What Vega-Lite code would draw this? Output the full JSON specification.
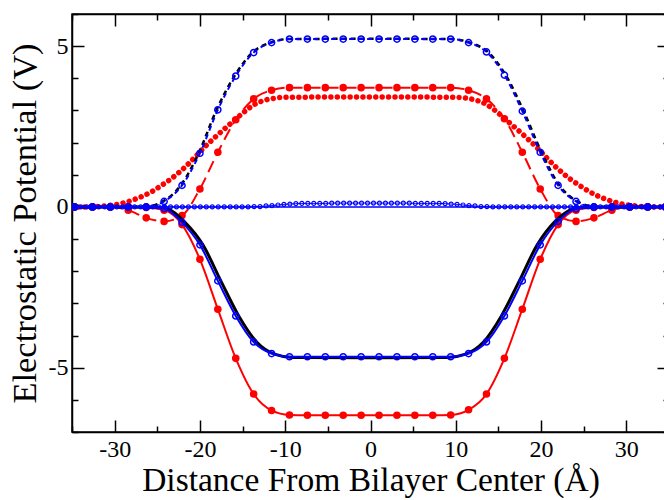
{
  "$schema": "https://vega.github.io/schema/vega-lite/v6.json",
  "width": 597,
  "height": 418,
  "autosize": "none",
  "padding": {"left": 72, "top": 14, "right": 0, "bottom": 68},
  "background": "white",
  "config": {
    "view": {"stroke": "black", "strokeWidth": 1.5},
    "axis": {
      "grid": false,
      "domainColor": "black",
      "domainWidth": 1.5,
      "tickColor": "black",
      "tickWidth": 1.5,
      "labelFont": "Liberation Serif",
      "titleFont": "Liberation Serif",
      "labelColor": "black",
      "titleColor": "black",
      "titleFontWeight": "normal"
    }
  },
  "datasets": {
    "RDot": [
      {"x": -35, "y": 0}, {"x": -33, "y": 0}, {"x": -31.5, "y": 0.02}, {"x": -30.5, "y": 0.05},
      {"x": -29.5, "y": 0.09}, {"x": -28.5, "y": 0.16}, {"x": -27.5, "y": 0.25}, {"x": -26.5, "y": 0.36},
      {"x": -25.5, "y": 0.5}, {"x": -24.5, "y": 0.67}, {"x": -23.5, "y": 0.85}, {"x": -22.5, "y": 1.06},
      {"x": -21.5, "y": 1.3}, {"x": -20.5, "y": 1.57}, {"x": -19.5, "y": 1.85}, {"x": -18.5, "y": 2.1},
      {"x": -17.5, "y": 2.34}, {"x": -16.5, "y": 2.57}, {"x": -15.5, "y": 2.8}, {"x": -14.5, "y": 3.02},
      {"x": -13.5, "y": 3.2}, {"x": -12.5, "y": 3.31}, {"x": -11.5, "y": 3.37}, {"x": -10, "y": 3.41},
      {"x": 0, "y": 3.42},
      {"x": 10, "y": 3.41}, {"x": 11.5, "y": 3.37}, {"x": 12.5, "y": 3.31}, {"x": 13.5, "y": 3.2},
      {"x": 14.5, "y": 3.02}, {"x": 15.5, "y": 2.8}, {"x": 16.5, "y": 2.57}, {"x": 17.5, "y": 2.34},
      {"x": 18.5, "y": 2.1}, {"x": 19.5, "y": 1.85}, {"x": 20.5, "y": 1.57}, {"x": 21.5, "y": 1.3},
      {"x": 22.5, "y": 1.06}, {"x": 23.5, "y": 0.85}, {"x": 24.5, "y": 0.67}, {"x": 25.5, "y": 0.5},
      {"x": 26.5, "y": 0.36}, {"x": 27.5, "y": 0.25}, {"x": 28.5, "y": 0.16}, {"x": 29.5, "y": 0.09},
      {"x": 30.5, "y": 0.05}, {"x": 31.5, "y": 0.02}, {"x": 33, "y": 0}, {"x": 35, "y": 0}
    ],
    "RD": [
      {"x": -34.7, "y": 0}, {"x": -32.6, "y": 0}, {"x": -30.5, "y": 0}, {"x": -28.4, "y": -0.1},
      {"x": -26.3, "y": -0.34}, {"x": -24.2, "y": -0.45}, {"x": -22.1, "y": -0.27}, {"x": -20.0, "y": 0.56},
      {"x": -17.9, "y": 1.7}, {"x": -15.8, "y": 2.71}, {"x": -13.7, "y": 3.36}, {"x": -11.6, "y": 3.63},
      {"x": -9.5, "y": 3.71}, {"x": -7.4, "y": 3.71}, {"x": -5.3, "y": 3.71}, {"x": -3.2, "y": 3.71},
      {"x": -1.1, "y": 3.71}, {"x": 1.0, "y": 3.71}, {"x": 3.1, "y": 3.71}, {"x": 5.2, "y": 3.71},
      {"x": 7.3, "y": 3.71}, {"x": 9.4, "y": 3.71}, {"x": 11.5, "y": 3.63}, {"x": 13.6, "y": 3.36},
      {"x": 15.7, "y": 2.74}, {"x": 17.8, "y": 1.7}, {"x": 19.9, "y": 0.56}, {"x": 22.0, "y": -0.27},
      {"x": 24.1, "y": -0.45}, {"x": 26.2, "y": -0.34}, {"x": 28.3, "y": -0.1}, {"x": 30.4, "y": 0},
      {"x": 32.5, "y": 0}, {"x": 34.6, "y": 0}
    ],
    "RS": [
      {"x": -34.7, "y": 0}, {"x": -32.6, "y": 0}, {"x": -30.5, "y": 0}, {"x": -28.4, "y": 0},
      {"x": -26.3, "y": -0.02}, {"x": -24.2, "y": -0.1}, {"x": -22.1, "y": -0.55}, {"x": -20.0, "y": -1.63},
      {"x": -17.9, "y": -3.18}, {"x": -15.8, "y": -4.71}, {"x": -13.7, "y": -5.82}, {"x": -11.6, "y": -6.33},
      {"x": -9.5, "y": -6.47}, {"x": -7.4, "y": -6.48}, {"x": -5.3, "y": -6.48}, {"x": -3.2, "y": -6.48},
      {"x": -1.1, "y": -6.48}, {"x": 1.0, "y": -6.48}, {"x": 3.1, "y": -6.48}, {"x": 5.2, "y": -6.48},
      {"x": 7.3, "y": -6.48}, {"x": 9.4, "y": -6.47}, {"x": 11.5, "y": -6.31}, {"x": 13.6, "y": -5.82},
      {"x": 15.7, "y": -4.71}, {"x": 17.8, "y": -3.18}, {"x": 19.9, "y": -1.63}, {"x": 22.0, "y": -0.55},
      {"x": 24.1, "y": -0.1}, {"x": 26.2, "y": -0.02}, {"x": 28.3, "y": 0}, {"x": 30.4, "y": 0},
      {"x": 32.5, "y": 0}, {"x": 34.6, "y": 0}
    ],
    "KD": [
      {"x": -35, "y": 0}, {"x": -26.6, "y": 0}, {"x": -24.35, "y": 0.17}, {"x": -22.25, "y": 0.67},
      {"x": -20.15, "y": 1.67}, {"x": -18.05, "y": 3.02}, {"x": -15.95, "y": 4.07}, {"x": -13.85, "y": 4.8},
      {"x": -11.75, "y": 5.11}, {"x": -9.6, "y": 5.22}, {"x": 0, "y": 5.23}, {"x": 9.5, "y": 5.22},
      {"x": 11.65, "y": 5.11}, {"x": 13.75, "y": 4.82}, {"x": 15.85, "y": 4.1}, {"x": 17.95, "y": 2.98},
      {"x": 20.05, "y": 1.7}, {"x": 22.15, "y": 0.67}, {"x": 24.25, "y": 0.17}, {"x": 26.5, "y": 0},
      {"x": 35, "y": 0}
    ],
    "BD": [
      {"x": -34.7, "y": 0}, {"x": -32.6, "y": 0}, {"x": -30.5, "y": 0}, {"x": -28.4, "y": 0},
      {"x": -26.3, "y": 0}, {"x": -24.2, "y": 0.17}, {"x": -22.1, "y": 0.67}, {"x": -20.0, "y": 1.67},
      {"x": -17.9, "y": 3.02}, {"x": -15.8, "y": 4.07}, {"x": -13.7, "y": 4.8}, {"x": -11.6, "y": 5.11},
      {"x": -9.5, "y": 5.22}, {"x": -7.4, "y": 5.22}, {"x": -5.3, "y": 5.22}, {"x": -3.2, "y": 5.22},
      {"x": -1.1, "y": 5.22}, {"x": 1.0, "y": 5.22}, {"x": 3.1, "y": 5.22}, {"x": 5.2, "y": 5.22},
      {"x": 7.3, "y": 5.22}, {"x": 9.4, "y": 5.22}, {"x": 11.5, "y": 5.11}, {"x": 13.6, "y": 4.82},
      {"x": 15.7, "y": 4.1}, {"x": 17.8, "y": 2.98}, {"x": 19.9, "y": 1.7}, {"x": 22.0, "y": 0.67},
      {"x": 24.1, "y": 0.17}, {"x": 26.2, "y": 0}, {"x": 28.3, "y": 0}, {"x": 30.4, "y": 0},
      {"x": 32.5, "y": 0}, {"x": 34.6, "y": 0}
    ],
    "KS": [
      {"x": -35, "y": 0}, {"x": -26, "y": 0}, {"x": -24.5, "y": -0.02}, {"x": -23.85, "y": -0.05},
      {"x": -21.75, "y": -0.48}, {"x": -19.65, "y": -1.18}, {"x": -17.55, "y": -2.3}, {"x": -15.45, "y": -3.39},
      {"x": -13.35, "y": -4.2}, {"x": -11.25, "y": -4.58}, {"x": -9.2, "y": -4.68}, {"x": 0, "y": -4.69},
      {"x": 9.1, "y": -4.68}, {"x": 11.15, "y": -4.58}, {"x": 13.25, "y": -4.2}, {"x": 15.35, "y": -3.39},
      {"x": 17.45, "y": -2.3}, {"x": 19.55, "y": -1.18}, {"x": 21.65, "y": -0.45}, {"x": 23.75, "y": -0.06},
      {"x": 24.5, "y": -0.02}, {"x": 26, "y": 0}, {"x": 35, "y": 0}
    ],
    "BS": [
      {"x": -34.7, "y": 0}, {"x": -32.6, "y": 0}, {"x": -30.5, "y": 0}, {"x": -28.4, "y": 0},
      {"x": -26.3, "y": 0}, {"x": -24.2, "y": -0.05}, {"x": -22.1, "y": -0.48}, {"x": -20.0, "y": -1.18},
      {"x": -17.9, "y": -2.3}, {"x": -15.8, "y": -3.39}, {"x": -13.7, "y": -4.2}, {"x": -11.6, "y": -4.56},
      {"x": -9.5, "y": -4.66}, {"x": -7.4, "y": -4.66}, {"x": -5.3, "y": -4.66}, {"x": -3.2, "y": -4.66},
      {"x": -1.1, "y": -4.66}, {"x": 1.0, "y": -4.66}, {"x": 3.1, "y": -4.66}, {"x": 5.2, "y": -4.66},
      {"x": 7.3, "y": -4.66}, {"x": 9.4, "y": -4.66}, {"x": 11.5, "y": -4.56}, {"x": 13.6, "y": -4.2},
      {"x": 15.7, "y": -3.39}, {"x": 17.8, "y": -2.3}, {"x": 19.9, "y": -1.18}, {"x": 22.0, "y": -0.45},
      {"x": 24.1, "y": -0.06}, {"x": 26.2, "y": 0}, {"x": 28.3, "y": 0}, {"x": 30.4, "y": 0},
      {"x": 32.5, "y": 0}, {"x": 34.6, "y": 0}
    ],
    "BSm": [
      {"x": -34.65, "y": 0}, {"x": -33.95, "y": 0}, {"x": -33.25, "y": 0}, {"x": -32.55, "y": 0},
      {"x": -31.85, "y": 0}, {"x": -31.15, "y": 0}, {"x": -30.45, "y": 0}, {"x": -29.75, "y": 0},
      {"x": -29.05, "y": 0}, {"x": -28.35, "y": 0}, {"x": -27.65, "y": 0}, {"x": -26.95, "y": 0},
      {"x": -26.25, "y": 0}, {"x": -25.55, "y": 0}, {"x": -24.85, "y": 0}, {"x": -24.15, "y": 0},
      {"x": -23.45, "y": 0}, {"x": -22.75, "y": 0}, {"x": -22.05, "y": 0}, {"x": -21.35, "y": 0},
      {"x": -20.65, "y": 0}, {"x": -19.95, "y": 0}, {"x": -19.25, "y": 0}, {"x": -18.55, "y": 0},
      {"x": -17.85, "y": 0}, {"x": -17.15, "y": 0}, {"x": -16.45, "y": 0}, {"x": -15.75, "y": 0},
      {"x": -15.05, "y": 0}, {"x": -14.35, "y": 0}, {"x": -13.65, "y": 0.01}, {"x": -12.95, "y": 0.01},
      {"x": -12.25, "y": 0.03}, {"x": -11.55, "y": 0.04}, {"x": -10.85, "y": 0.06}, {"x": -10.15, "y": 0.08},
      {"x": -9.45, "y": 0.09}, {"x": -8.75, "y": 0.1}, {"x": -8.05, "y": 0.11}, {"x": -7.35, "y": 0.11},
      {"x": -6.65, "y": 0.11}, {"x": -5.95, "y": 0.11}, {"x": -5.25, "y": 0.11}, {"x": -4.55, "y": 0.12},
      {"x": -3.85, "y": 0.12}, {"x": -3.15, "y": 0.12}, {"x": -2.45, "y": 0.12}, {"x": -1.75, "y": 0.12},
      {"x": -1.05, "y": 0.12}, {"x": -0.35, "y": 0.12}, {"x": 0.35, "y": 0.12}, {"x": 1.05, "y": 0.12},
      {"x": 1.75, "y": 0.12}, {"x": 2.45, "y": 0.12}, {"x": 3.15, "y": 0.12}, {"x": 3.85, "y": 0.12},
      {"x": 4.55, "y": 0.12}, {"x": 5.25, "y": 0.11}, {"x": 5.95, "y": 0.11}, {"x": 6.65, "y": 0.11},
      {"x": 7.35, "y": 0.11}, {"x": 8.05, "y": 0.11}, {"x": 8.75, "y": 0.1}, {"x": 9.45, "y": 0.09},
      {"x": 10.15, "y": 0.08}, {"x": 10.85, "y": 0.06}, {"x": 11.55, "y": 0.04}, {"x": 12.25, "y": 0.03},
      {"x": 12.95, "y": 0.01}, {"x": 13.65, "y": 0.01}, {"x": 14.35, "y": 0}, {"x": 15.05, "y": 0},
      {"x": 15.75, "y": 0}, {"x": 16.45, "y": 0}, {"x": 17.15, "y": 0}, {"x": 17.85, "y": 0},
      {"x": 18.55, "y": 0}, {"x": 19.25, "y": 0}, {"x": 19.95, "y": 0}, {"x": 20.65, "y": 0},
      {"x": 21.35, "y": 0}, {"x": 22.05, "y": 0}, {"x": 22.75, "y": 0}, {"x": 23.45, "y": 0},
      {"x": 24.15, "y": 0}, {"x": 24.85, "y": 0}, {"x": 25.55, "y": 0}, {"x": 26.25, "y": 0},
      {"x": 26.95, "y": 0}, {"x": 27.65, "y": 0}, {"x": 28.35, "y": 0}, {"x": 29.05, "y": 0},
      {"x": 29.75, "y": 0}, {"x": 30.45, "y": 0}, {"x": 31.15, "y": 0}, {"x": 31.85, "y": 0},
      {"x": 32.55, "y": 0}, {"x": 33.25, "y": 0}, {"x": 33.95, "y": 0}, {"x": 34.65, "y": 0}
    ],
    "Z": [{"x": -35, "y": 0}, {"x": 35, "y": 0}]
  },
  "encoding": {
    "x": {"field": "x", "type": "quantitative", "scale": {"domain": [-35, 35], "nice": false, "zero": false}, "axis": null},
    "y": {"field": "y", "type": "quantitative", "scale": {"domain": [-7, 6], "nice": false, "zero": false}, "axis": null}
  },
  "layer": [
    {
      "data": {"name": "RDot"},
      "mark": {"type": "line", "color": "#ff0000", "strokeWidth": 5.5, "strokeCap": "round", "strokeDash": [0.01, 6.4], "interpolate": "monotone", "clip": true},
      "encoding": {
        "x": {"field": "x", "type": "quantitative", "scale": {"domain": [-35, 35], "nice": false, "zero": false},
          "axis": {"orient": "bottom", "values": [-35, -30, -25, -20, -15, -10, -5, 0, 5, 10, 15, 20, 25, 30, 35],
            "tickSize": {"condition": {"test": "datum.value % 10 === 0", "value": -12}, "value": -6},
            "labelExpr": "datum.value % 10 === 0 ? (datum.value < 0 ? '-' + (-datum.value) : '' + datum.value) : ''",
            "labelFont": "Liberation Serif", "labelFontSize": 24, "labelPadding": 17, "labelFlush": false,
            "title": "Distance From Bilayer Center (Å)", "titleFont": "Liberation Serif", "titleFontSize": 33.5, "titlePadding": 3}},
        "y": {"field": "y", "type": "quantitative", "scale": {"domain": [-7, 6], "nice": false, "zero": false},
          "axis": {"orient": "left", "values": [-7, -6, -5, -4, -3, -2, -1, 0, 1, 2, 3, 4, 5, 6],
            "tickSize": {"condition": {"test": "datum.value % 5 === 0", "value": -12}, "value": -6},
            "labelExpr": "datum.value % 5 === 0 ? (datum.value < 0 ? '-' + (-datum.value) : '' + datum.value) : ''",
            "labelFont": "Liberation Serif", "labelFontSize": 24, "labelPadding": 16, "labelFlush": false,
            "title": "Electrostatic Potential (V)", "titleFont": "Liberation Serif", "titleFontSize": 34.5, "titlePadding": 6}}
      }
    },
    {
      "data": {"name": "RD"},
      "mark": {"type": "line", "color": "#ff0000", "strokeWidth": 2, "strokeDash": [12, 6], "interpolate": "monotone", "clip": true,
        "point": {"filled": true, "size": 57, "color": "#ff0000"}}
    },
    {
      "data": {"name": "RS"},
      "mark": {"type": "line", "color": "#ff0000", "strokeWidth": 2, "interpolate": "monotone", "clip": true,
        "point": {"filled": true, "size": 57, "color": "#ff0000"}}
    },
    {
      "data": {"name": "KD"},
      "mark": {"type": "line", "color": "black", "strokeWidth": 2.5, "strokeDash": [5, 4], "interpolate": "monotone", "clip": true}
    },
    {
      "data": {"name": "BD"},
      "mark": {"type": "line", "color": "#0000ff", "strokeWidth": 2, "strokeDash": [5, 4], "strokeDashOffset": 4, "interpolate": "monotone", "clip": true,
        "point": {"filled": false, "size": 38, "strokeWidth": 1.5, "color": "#0000ff"}}
    },
    {
      "data": {"name": "KS"},
      "mark": {"type": "line", "color": "black", "strokeWidth": 3, "interpolate": "monotone", "clip": true}
    },
    {
      "data": {"name": "BS"},
      "mark": {"type": "line", "color": "#0000ff", "strokeWidth": 2, "interpolate": "monotone", "clip": true,
        "point": {"filled": false, "size": 38, "strokeWidth": 1.5, "color": "#0000ff"}}
    },
    {
      "data": {"name": "BSm"},
      "mark": {"type": "line", "color": "#0000ff", "strokeWidth": 1, "interpolate": "monotone", "clip": true,
        "point": {"filled": false, "size": 16, "strokeWidth": 1.2, "color": "#0000ff"}}
    },
    {
      "data": {"name": "Z"},
      "mark": {"type": "line", "color": "#0000ff", "strokeWidth": 1.5, "clip": true},
      "encoding": {
        "x": {"field": "x", "type": "quantitative", "scale": {"domain": [-35, 35], "nice": false, "zero": false},
          "axis": {"orient": "top", "values": [-35, -30, -25, -20, -15, -10, -5, 0, 5, 10, 15, 20, 25, 30, 35],
            "tickSize": {"condition": {"test": "datum.value % 10 === 0", "value": -12}, "value": -6},
            "labels": false, "title": null}},
        "y": {"field": "y", "type": "quantitative", "scale": {"domain": [-7, 6], "nice": false, "zero": false},
          "axis": {"orient": "right", "values": [-7, -6, -5, -4, -3, -2, -1, 0, 1, 2, 3, 4, 5, 6],
            "tickSize": {"condition": {"test": "datum.value % 5 === 0", "value": -12}, "value": -6},
            "labels": false, "title": null}}
      }
    }
  ],
  "resolve": {"axis": {"x": "independent", "y": "independent"}}
}
